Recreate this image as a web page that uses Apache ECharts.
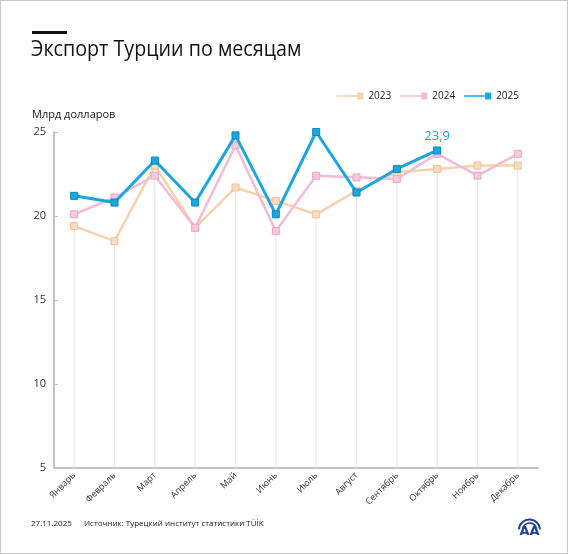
<!DOCTYPE html>
<html><head><meta charset="utf-8">
<script src="https://cdn.jsdelivr.net/npm/echarts@6/dist/echarts.min.js"></script>
<style>
html,body{margin:0;padding:0;background:#fff;}
#c{width:566px;height:552px;border:1px solid #c8c8c8;}
</style></head>
<body><div id="c"></div>
<script>
const months = ['Январь','Февраль','Март','Апрель','Май','Июнь','Июль','Август','Сентябрь','Октябрь','Ноябрь','Декабрь'];
const exp2023 = [19.4, 18.5, 23.0, 19.3, 21.7, 20.9, 20.1, 21.5, 22.6, 22.8, 23.0, 23.0];
const exp2024 = [20.1, 21.1, 22.4, 19.3, 24.2, 19.1, 22.4, 22.3, 22.2, 23.7, 22.4, 23.7];
const exp2025 = [21.2, 20.8, 23.3, 20.8, 24.8, 20.1, 25.0, 21.4, 22.8, 23.9];
const yTicks = {min: 5, max: 25, interval: 5};

const dropLines = months.map((m, i) => {
  const vals = [exp2023[i], exp2024[i], exp2025[i]].filter(v => v != null);
  return Math.min.apply(null, vals);
});

const FONT = '"Open Sans", "Noto Sans", sans-serif';
const chart = echarts.init(document.getElementById('c'), null, {renderer: 'canvas'});

const d2025 = exp2025.map((v, i) => i === exp2025.length - 1
  ? {value: v, label: {show: true, position: 'top', distance: 4, color: '#1aa6df', fontSize: 13, fontFamily: FONT,
      formatter: p => String(p.value).replace('.', ',')}}
  : v);

const legendIcon = 'path://M0,3.3L21,3.3L21,4.7L0,4.7Z M21,0.6L27,0.6L27,7.4L21,7.4Z';
const LOGO = '#1c3f94';

chart.setOption({
  backgroundColor: '#fff',
  animation: false,
  textStyle: {fontFamily: FONT},
  graphic: [
    {type: 'rect', left: 31, top: 30, shape: {width: 35, height: 3}, style: {fill: '#111'}},
    {type: 'text', x: 30, y: 37, scaleX: 0.875, style: {text: 'Экспорт Турции по месяцам', fill: '#111', font: '400 22.5px ' + FONT}},
    {type: 'text', left: 31, top: 108, style: {text: 'Млрд долларов', fill: '#222', font: '400 11px ' + FONT}},
    {type: 'text', left: 30, top: 519, style: {text: '27.11.2025', fill: '#222', font: '400 8px ' + FONT}},
    {type: 'text', left: 83, top: 519, style: {text: 'Источник: Турецкий институт статистики TÜİK', fill: '#222', font: '400 8px ' + FONT}},
    {type: 'group', children: [
      {type: 'arc', shape: {cx: 528.5, cy: 529, r: 10.5, startAngle: Math.PI * 1.02, endAngle: Math.PI * 1.98}, style: {stroke: LOGO, lineWidth: 2, fill: null}},
      {type: 'arc', shape: {cx: 528.5, cy: 529, r: 7, startAngle: Math.PI * 1.05, endAngle: Math.PI * 1.95}, style: {stroke: LOGO, lineWidth: 1.6, fill: null}},
      {type: 'text', x: 528.5, y: 531, style: {text: 'AA', fill: LOGO, font: 'bold 13px "DejaVu Sans", sans-serif', align: 'center', verticalAlign: 'middle'}}
    ]}
  ],
  legend: {
    data: [
      {name: '2023', icon: legendIcon, itemStyle: {color: '#f8d2ab'}},
      {name: '2024', icon: legendIcon, itemStyle: {color: '#f2bcd6'}},
      {name: '2025', icon: legendIcon, itemStyle: {color: '#1aa6df'}}
    ],
    right: 43, top: 85,
    itemWidth: 27, itemHeight: 7, itemGap: 9,
    itemStyle: {borderWidth: 0},
    textStyle: {fontSize: 10, color: '#222', fontFamily: FONT}
  },
  grid: {left: 53, right: 29, top: 131, bottom: 85, containLabel: false},
  xAxis: {
    type: 'category', data: months, boundaryGap: true,
    axisLine: {lineStyle: {color: '#c4c4c4', width: 2}},
    axisTick: {show: false},
    splitLine: {show: false},
    axisLabel: {rotate: 45, fontSize: 9, color: '#333', margin: 6, interval: 0, fontFamily: FONT}
  },
  yAxis: {
    type: 'value', min: yTicks.min, max: yTicks.max, interval: yTicks.interval,
    axisLine: {show: true, lineStyle: {color: '#c4c4c4', width: 2}},
    axisTick: {show: true, inside: true, length: 4, lineStyle: {color: '#c4c4c4'}},
    splitLine: {show: false},
    axisLabel: {fontSize: 11, color: '#333', margin: 8, fontFamily: FONT}
  },
  series: [
    {name: 'drop', type: 'bar', data: dropLines, barWidth: 1, silent: true, z: 0,
      itemStyle: {color: '#e6e6e6'}, legendHoverLink: false},
    {name: '2023', type: 'line', data: exp2023, symbol: 'rect', symbolSize: 7, z: 2,
      lineStyle: {color: '#f8d2ab', width: 2.5},
      itemStyle: {color: '#fbdcc0', borderColor: '#f3c195', borderWidth: 1}},
    {name: '2024', type: 'line', data: exp2024, symbol: 'rect', symbolSize: 7, z: 3,
      lineStyle: {color: '#f2bcd6', width: 2.5},
      itemStyle: {color: '#f5c8dd', borderColor: '#eaa6c7', borderWidth: 1}},
    {name: '2025', type: 'line', data: d2025, symbol: 'rect', symbolSize: 7, z: 4,
      lineStyle: {color: '#1aa6df', width: 3},
      itemStyle: {color: '#1aa6df', borderColor: '#0d86bd', borderWidth: 1}}
  ]
});
</script></body></html>
